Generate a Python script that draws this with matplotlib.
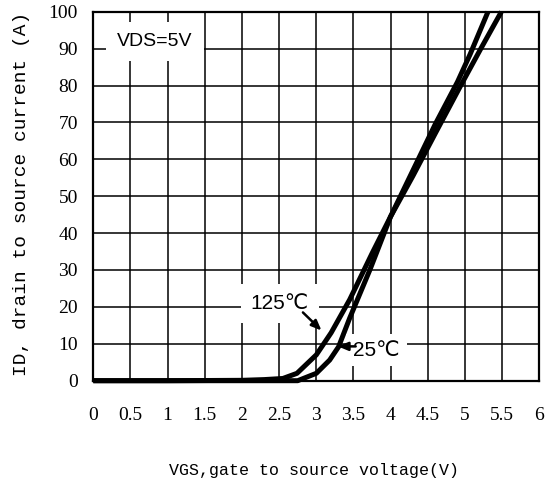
import matplotlib
matplotlib.use("Agg")
import matplotlib.pyplot as plt
import numpy as np

# ---- data ----
vgs_125 = [0.0, 1.0, 2.0, 2.3, 2.55, 2.74, 3.0, 3.2, 3.45, 3.75, 4.0, 4.3, 4.6, 4.93, 5.2, 5.49]
id_125 = [0.0, 0.0, 0.1, 0.3, 0.6, 2.0, 7.0, 13.0, 22.0, 34.5, 44.5, 55.5, 67.0, 79.5, 89.5, 100.0]

vgs_25 = [0.0, 1.0, 2.0, 2.5, 2.75, 3.0, 3.18, 3.3, 3.45, 3.72, 4.0, 4.3, 4.6, 4.9, 5.07, 5.31]
id_25 = [0.0, 0.0, 0.0, 0.0, 0.0, 2.0, 5.6, 9.2, 17.0, 30.0, 44.5, 57.0, 69.5, 81.0, 88.5, 100.0]

x_ticks = [0, 0.5, 1, 1.5, 2, 2.5, 3, 3.5, 4, 4.5, 5, 5.5, 6]
x_ticklabels = ["0", "0.5", "1", "1.5", "2", "2.5", "3", "3.5", "4", "4.5", "5", "5.5", "6"]
y_ticks = [0, 10, 20, 30, 40, 50, 60, 70, 80, 90, 100]
y_ticklabels = [str(v) for v in y_ticks]

x_title = "VGS,gate to source voltage(V)"
y_title = "ID, drain to source current (A)"
cond_label = "VDS=5V"
label_125 = "125℃"
label_25 = "25℃"

# ---- figure ----
fig = plt.figure(figsize=(5.49, 4.83), dpi=100)
ax = fig.add_axes([93.3 / 549, (483 - 380.7) / 483, (539.3 - 93.3) / 549, (380.7 - 11.7) / 483])

ax.set_xlim(0, 6)
ax.set_ylim(0, 100)
ax.set_xticks(x_ticks)
ax.set_yticks(y_ticks)
tick_font = dict(family=["Liberation Serif", "DejaVu Serif"], size=14)
ax.set_xticklabels(x_ticklabels, **tick_font)
ax.set_yticklabels(y_ticklabels, **tick_font)
ax.tick_params(axis="both", length=0, colors="black")
ax.tick_params(axis="x", pad=19)
ax.tick_params(axis="y", pad=11)

ax.grid(True, color="black", linewidth=1.1, zorder=1)
ax.set_axisbelow(True)
for s in ax.spines.values():
    s.set_linewidth(1.6)
    s.set_color("black")
    s.set_zorder(4)

ax.plot(vgs_125, id_125, color="black", linewidth=3.6, solid_capstyle="butt", zorder=3, clip_on=False)
ax.plot(vgs_25, id_25, color="black", linewidth=3.6, solid_capstyle="butt", zorder=3, clip_on=False)

sans = ["Liberation Sans", "DejaVu Sans"]

ax.text(0.83, 91.9, cond_label, family=sans, size=14, ha="center", va="center",
        zorder=5, bbox=dict(facecolor="white", edgecolor="none", pad=8))

ax.text(2.51, 21.0, label_125, family=sans, size=15, ha="center", va="center",
        zorder=5, bbox=dict(facecolor="white", edgecolor="none", pad=7))
ax.annotate("", xy=(3.07, 13.6), xytext=(2.82, 18.5),
            arrowprops=dict(arrowstyle="-|>,head_length=0.6,head_width=0.25", color="black", lw=1.8,
                            shrinkA=0, shrinkB=0), zorder=6)

ax.text(3.81, 8.3, label_25, family=sans, size=15, ha="center", va="center",
        zorder=5, bbox=dict(facecolor="white", edgecolor="none", pad=5))
ax.annotate("", xy=(3.29, 9.3), xytext=(3.53, 9.3),
            arrowprops=dict(arrowstyle="-|>,head_length=0.6,head_width=0.25", color="black", lw=1.8,
                            shrinkA=0, shrinkB=0), zorder=6)

label_font = ["Liberation Mono", "DejaVu Sans Mono"]
fig.text(314 / 549, (483 - 470) / 483, x_title, family=label_font, size=12, ha="center", va="center")
fig.text(21.7 / 549, (483 - 194) / 483, y_title, family=label_font, size=14, ha="center", va="center",
         rotation=90)

fig.savefig("out.png", dpi=100)
